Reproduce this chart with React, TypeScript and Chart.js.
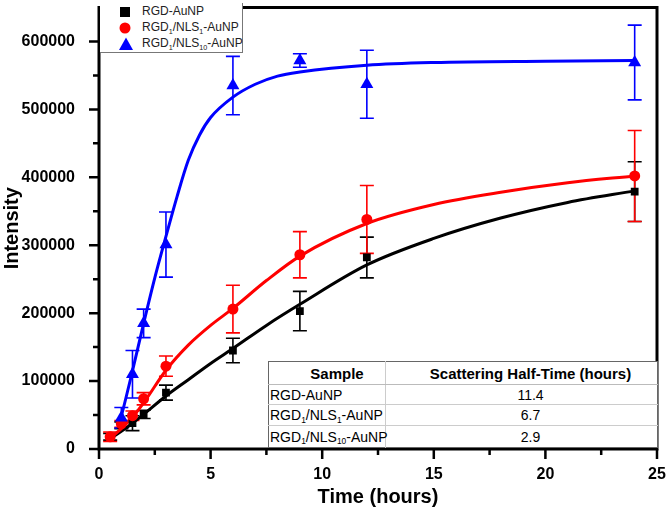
import React, { useEffect, useRef } from "react";
import { Chart, registerables } from "chart.js";

Chart.register(...registerables);

// ---- data ----
const sampleTimes = [0.5, 1, 1.5, 2, 3, 6, 9, 12, 24];
const rgdValues = [18000, 35000, 38000, 51000, 83000, 145000, 203000, 282000, 379000];
const rgdErrors = [5000, 5000, 11000, 6000, 11000, 18000, 29000, 30000, 44000];
const nls1Values = [18000, 37000, 49000, 74000, 122000, 206000, 286000, 338000, 402000];
const nls1Errors = [7000, 5000, 7000, 9000, 15000, 35000, 34000, 50000, 67000];
const nls10Times = [1, 1.5, 2, 3, 6, 9, 12, 24];
const nls10Values = [46000, 110000, 185000, 301000, 535000, 572000, 537000, 569000];
const nls10Errors = [15000, 35000, 21000, 48000, 43000, 10000, 50000, 55000];

const rgdFitX = [0.5, 1, 1.5, 2, 3, 4, 5, 6, 7.5, 9, 12, 15, 18, 21, 24];
const rgdFitY = [15000, 26000, 38000, 51000, 78000, 102000, 126000, 148000, 182000, 213000, 271000, 310000, 340000, 363000, 380000];
const nls1FitX = [0.5, 1, 1.5, 2, 3, 4, 5, 6, 7.5, 9, 12, 15, 18, 21, 24];
const nls1FitY = [16000, 30000, 47000, 68000, 116000, 153000, 182000, 207000, 248000, 284000, 332000, 360000, 378000, 392000, 402000];
const nls10FitX = [0.9, 1, 1.5, 2, 2.5, 3, 3.5, 4, 4.5, 5, 6, 7, 8, 9, 12, 15, 20, 24];
const nls10FitY = [36000, 48000, 115000, 185000, 252000, 313000, 372000, 425000, 462000, 488000, 518000, 537000, 549000, 555000, 565000, 569000, 571000, 572000];

const xMajorTicks = [0, 5, 10, 15, 20, 25];
const xMinorTicks = [2.5, 7.5, 12.5, 17.5, 22.5];
const yMajorTicks = [0, 100000, 200000, 300000, 400000, 500000, 600000];
const yMinorTicks = [50000, 150000, 250000, 350000, 450000, 550000];

const tableHeaders = ["Sample", "Scattering Half-Time (hours)"];
const halfTimes = ["11.4", "6.7", "2.9"];

const FONT = "'Liberation Sans', Arial, Helvetica, sans-serif";
const W = 666;
const H = 517;

const pts = (xs: number[], ys: number[]) => xs.map((x, i) => ({ x, y: ys[i] }));

const errorBarPlugin = {
  id: "errorBars",
  beforeDatasetsDraw(chart: any) {
    const { ctx, scales } = chart;
    const xs = scales.x;
    const ys = scales.y;
    chart.data.datasets.forEach((ds: any) => {
      if (!ds.errors) return;
      ctx.save();
      ctx.strokeStyle = ds.errColor;
      ctx.lineWidth = 1.6;
      ds.data.forEach((p: any, i: number) => {
        const e = ds.errors[i];
        const px = xs.getPixelForValue(p.x);
        const top = ys.getPixelForValue(p.y + e);
        const bot = ys.getPixelForValue(p.y - e);
        ctx.beginPath();
        ctx.moveTo(px, top);
        ctx.lineTo(px, bot);
        ctx.moveTo(px - 7, top);
        ctx.lineTo(px + 7, top);
        ctx.moveTo(px - 7, bot);
        ctx.lineTo(px + 7, bot);
        ctx.stroke();
      });
      ctx.restore();
    });
  },
};

const framePlugin = {
  id: "frameTicks",
  afterDraw(chart: any) {
    const { ctx, chartArea, scales } = chart;
    const { left, right, top, bottom } = chartArea;
    ctx.save();
    ctx.strokeStyle = "#000";
    ctx.lineWidth = 3;
    ctx.strokeRect(left, top, right - left, bottom - top);
    ctx.lineWidth = 2.5;
    ctx.beginPath();
    xMajorTicks.forEach((v) => {
      const px = scales.x.getPixelForValue(v);
      ctx.moveTo(px, bottom);
      ctx.lineTo(px, bottom + 10);
    });
    xMinorTicks.forEach((v) => {
      const px = scales.x.getPixelForValue(v);
      ctx.moveTo(px, bottom);
      ctx.lineTo(px, bottom + 6);
    });
    yMajorTicks.forEach((v) => {
      const py = scales.y.getPixelForValue(v);
      ctx.moveTo(left, py);
      ctx.lineTo(left - 10, py);
    });
    yMinorTicks.forEach((v) => {
      const py = scales.y.getPixelForValue(v);
      ctx.moveTo(left, py);
      ctx.lineTo(left - 6, py);
    });
    ctx.stroke();
    ctx.restore();
  },
};

const Sub = ({ children }: { children: React.ReactNode }) => (
  <sub style={{ fontSize: "60%", verticalAlign: "baseline", position: "relative", top: "0.35em" }}>{children}</sub>
);

const labelNodes = [
  <>RGD-AuNP</>,
  <>RGD<Sub>1</Sub>/NLS<Sub>1</Sub>-AuNP</>,
  <>RGD<Sub>1</Sub>/NLS<Sub>10</Sub>-AuNP</>,
];

export default function App() {
  const canvasRef = useRef<HTMLCanvasElement>(null);

  useEffect(() => {
    if (!canvasRef.current) return;
    Chart.defaults.font.family = FONT;
    const chart = new Chart(canvasRef.current, {
      type: "scatter",
      data: {
        datasets: [
          {
            type: "line",
            data: pts(rgdFitX, rgdFitY),
            borderColor: "#000",
            borderWidth: 3,
            pointRadius: 0,
            cubicInterpolationMode: "monotone",
            order: 10,
          } as any,
          {
            type: "line",
            data: pts(nls1FitX, nls1FitY),
            borderColor: "#ff0000",
            borderWidth: 3,
            pointRadius: 0,
            cubicInterpolationMode: "monotone",
            order: 9,
          } as any,
          {
            type: "line",
            data: pts(nls10FitX, nls10FitY),
            borderColor: "#0000ff",
            borderWidth: 3,
            pointRadius: 0,
            cubicInterpolationMode: "monotone",
            order: 8,
          } as any,
          {
            label: "RGD-AuNP",
            data: pts(sampleTimes, rgdValues),
            pointStyle: "rect",
            pointRadius: 5.5,
            backgroundColor: "#000",
            borderColor: "#000",
            borderWidth: 0,
            errors: rgdErrors,
            errColor: "#000",
            order: 3,
          } as any,
          {
            label: "RGD1/NLS1-AuNP",
            data: pts(sampleTimes, nls1Values),
            pointStyle: "circle",
            pointRadius: 5.5,
            backgroundColor: "#ff0000",
            borderColor: "#ff0000",
            borderWidth: 0,
            errors: nls1Errors,
            errColor: "#ff0000",
            order: 2,
          } as any,
          {
            label: "RGD1/NLS10-AuNP",
            data: pts(nls10Times, nls10Values),
            pointStyle: "triangle",
            pointRadius: 7.5,
            backgroundColor: "#0000ff",
            borderColor: "#0000ff",
            borderWidth: 0,
            errors: nls10Errors,
            errColor: "#0000ff",
            order: 1,
          } as any,
        ],
      },
      options: {
        animation: false,
        responsive: false,
        devicePixelRatio: 1,
        layout: { padding: { top: 2, right: 9, left: 0, bottom: 0 } },
        plugins: { legend: { display: false }, tooltip: { enabled: false } },
        scales: {
          x: {
            type: "linear",
            min: 0,
            max: 25,
            grid: { display: false },
            border: { display: false },
            ticks: {
              stepSize: 5,
              padding: 8,
              autoSkip: false,
              maxTicksLimit: 20,
              color: "#000",
              font: { size: 16, weight: "bold", family: FONT },
              maxRotation: 0,
            },
            title: {
              display: true,
              text: "Time (hours)",
              color: "#000",
              font: { size: 20, weight: "bold", family: FONT },
              padding: { top: 0, bottom: 8 },
            },
            afterFit: (s: any) => {
              s.height = 68;
              s.paddingLeft = 0;
              s.paddingRight = 0;
            },
          },
          y: {
            type: "linear",
            min: 0,
            max: 650000,
            grid: { display: false },
            border: { display: false },
            ticks: {
              stepSize: 50000,
              maxTicksLimit: 30,
              padding: 16,
              autoSkip: false,
              color: "#000",
              font: { size: 16, weight: "bold", family: FONT },
              callback: (v: any) => (Math.round(Number(v)) % 100000 === 0 && Number(v) <= 600000 ? String(Math.round(Number(v))) : ""),
            },
            title: {
              display: true,
              text: "Intensity",
              color: "#000",
              font: { size: 20, weight: "bold", family: FONT },
              padding: { top: 0, bottom: 0 },
            },
            afterFit: (s: any) => {
              s.width = 99;
              s.paddingTop = 0;
              s.paddingBottom = 0;
            },
          },
        },
      } as any,
      plugins: [errorBarPlugin, framePlugin],
    });
    return () => chart.destroy();
  }, []);

  const markers = [
    <svg width="14" height="14"><rect x="2" y="2" width="10" height="10" fill="#000" /></svg>,
    <svg width="14" height="14"><circle cx="7" cy="7" r="5.5" fill="#ff0000" /></svg>,
    <svg width="16" height="14"><polygon points="8,0.5 15,13 1,13" fill="#0000ff" /></svg>,
  ];

  const rowHeights = [20, 21, 22];

  return (
    <div style={{ position: "absolute", left: 0, top: 0, width: W, height: H, background: "#fff", fontFamily: FONT, overflow: "hidden" }}>
      <canvas ref={canvasRef} width={W} height={H} style={{ display: "block", width: W, height: H }} />
      <div
        style={{
          position: "absolute",
          left: 100,
          top: 3,
          width: 142,
          height: 49,
          borderRight: "1px solid #777",
          borderBottom: "1px solid #777",
          background: "#fff",
        }}
      >
        {labelNodes.map((node, i) => (
          <div key={i} style={{ position: "absolute", left: 0, top: 1 + i * 16, height: 16, width: 142 }}>
            <div style={{ position: "absolute", left: 18, top: 1 }}>{markers[i]}</div>
            <div style={{ position: "absolute", left: 42, top: 0, fontSize: 12, lineHeight: "15px", color: "#222", whiteSpace: "nowrap" }}>
              {node}
            </div>
          </div>
        ))}
      </div>
      <table
        style={{
          position: "absolute",
          left: 268,
          top: 361,
          width: 389,
          height: 86,
          borderCollapse: "collapse",
          tableLayout: "fixed",
          background: "#fff",
          border: "1px solid #666",
          color: "#000",
        }}
      >
        <colgroup>
          <col style={{ width: 117 }} />
          <col style={{ width: 272 }} />
        </colgroup>
        <tbody>
          <tr style={{ height: 23 }}>
            <td style={{ fontWeight: "bold", fontSize: 15, textAlign: "center", borderBottom: "1px solid #bbb", borderRight: "1px solid #ccc", padding: "0 0 0 20px" }}>
              {tableHeaders[0]}
            </td>
            <td style={{ fontWeight: "bold", fontSize: 15, textAlign: "center", borderBottom: "1px solid #bbb", padding: "0 0 0 18px", whiteSpace: "nowrap" }}>
              {tableHeaders[1]}
            </td>
          </tr>
          {labelNodes.map((node, i) => (
            <tr key={i} style={{ height: rowHeights[i] }}>
              <td style={{ fontSize: 14, padding: "0 0 0 1px", borderBottom: i < 2 ? "1px solid #ccc" : undefined, borderRight: "1px solid #ccc", whiteSpace: "nowrap" }}>
                {node}
              </td>
              <td style={{ fontSize: 14, textAlign: "center", padding: "0 0 0 18px", borderBottom: i < 2 ? "1px solid #ccc" : undefined }}>
                {halfTimes[i]}
              </td>
            </tr>
          ))}
        </tbody>
      </table>
    </div>
  );
}
